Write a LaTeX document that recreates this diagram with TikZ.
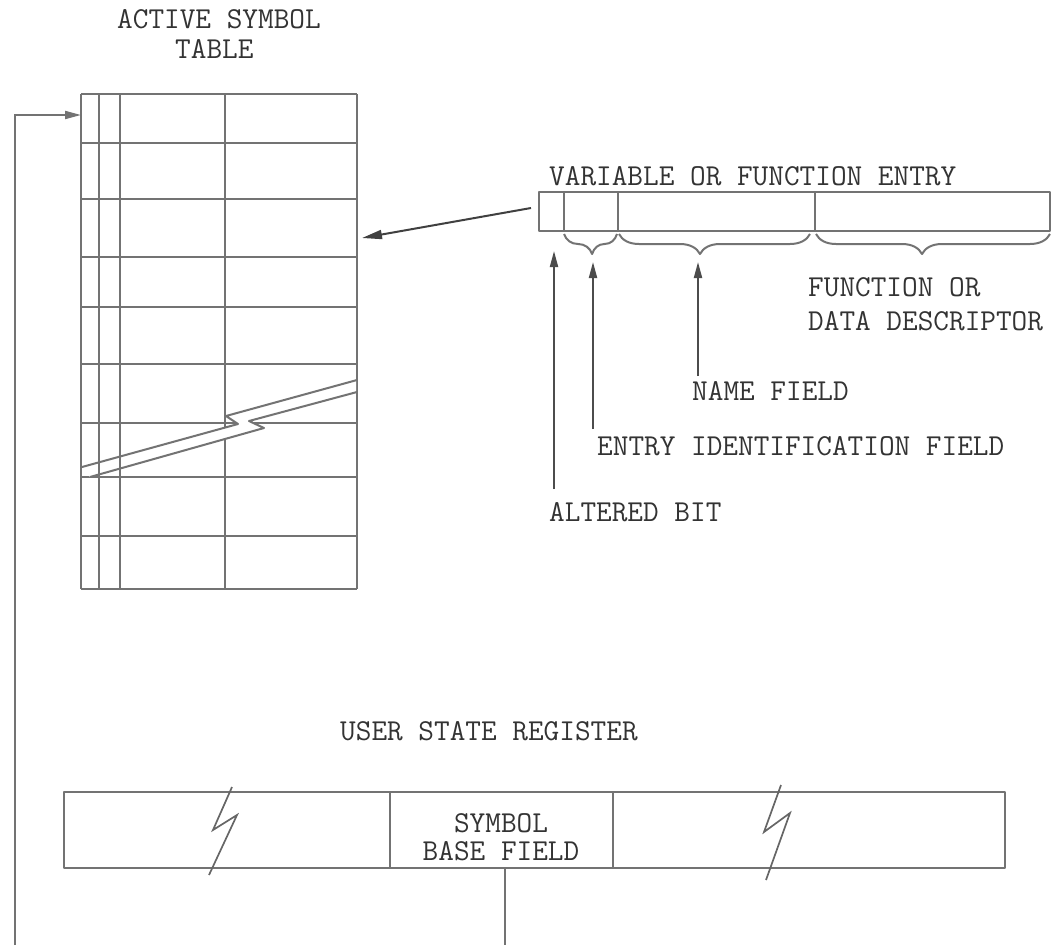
\documentclass[tikz,border=0pt]{standalone}
\usepackage{fontspec}
\usetikzlibrary{arrows.meta,decorations.pathreplacing}
\begin{document}
\begin{tikzpicture}[x=1pt,y=-1pt,
  ln/.style={line width=2pt, draw=black!55, line join=round},
  arr/.style={line width=2pt, draw=black!70, -{Triangle[length=16pt,width=8pt]}},
  lbl/.style={font=\ttfamily\fontsize{30.4}{34}\selectfont, text=black!80, inner sep=0pt, anchor=base west},
  clbl/.style={font=\ttfamily\fontsize{30.4}{34}\selectfont, text=black!80, inner sep=0pt, anchor=base},
  brc/.style={ln, decorate, decoration={brace, mirror, amplitude=20pt}},
  zig/.style={line width=1.7pt, draw=black!60, line join=miter},
]
\useasboundingbox (0,0) rectangle (1054,945);

% ---- titles and labels
\node[lbl] (tAST) at (117,28) {ACTIVE SYMBOL};
\node[lbl] (tTAB) at (175,58) {TABLE};
\node[lbl] (tVAR) at (549,185) {VARIABLE OR FUNCTION ENTRY};
\node[lbl] (tFUN) at (808,296) {FUNCTION OR};
\node[lbl] (tDAT) at (808,330) {DATA DESCRIPTOR};
\node[lbl] (tNAM) at (692,400) {NAME FIELD};
\node[lbl] (tEID) at (597,455) {ENTRY IDENTIFICATION FIELD};
\node[lbl] (tALT) at (549,521) {ALTERED BIT};
\node[lbl] (tUSR) at (340,740) {USER STATE REGISTER};
\node[clbl] (tSYM) at (501,832) {SYMBOL};
\node[clbl] (tBAS) at (501,860) {BASE FIELD};

% ---- active symbol table
\foreach \y in {94,143,199,257,307,364,423,477,536,589}
  \draw[ln] (81,\y) -- (357,\y);
\draw[ln] (225,94) -- (225,589);
\draw[ln] (357,94) -- (357,589);
% break band
\fill[white] (82,467) -- (238,424) -- (226,416) -- (356,380) -- (356,392)
  -- (249,421) -- (264,428) -- (90,477) -- cycle;
\foreach \x in {81,99,120}
  \draw[ln] (\x,94) -- (\x,589);
\draw[ln] (82,467) -- (238,424) -- (226,416) -- (357,380);
\draw[ln] (90,477) -- (264,428) -- (249,421) -- (357,392);
\coordinate (tblIn) at (81,115);
\coordinate (tblR) at (362,238);

% ---- variable or function entry
\draw[ln] (539,192) rectangle (1050,231);
\foreach \x in {564,618,815}
  \draw[ln] (\x,192) -- (\x,231);
\draw[brc, decoration={aspect=0.53}] (564,234) -- (617,234);
\draw[brc, decoration={aspect=0.424}] (619,234) -- (810,234);
\draw[brc, decoration={aspect=0.453}] (816,234) -- (1050,234);
\coordinate (entL) at (531,208);

\coordinate (altB) at (554,489);
\coordinate (altT) at (554,251);
\coordinate (eidB) at (593,429);
\coordinate (eidT) at (593,262);
\coordinate (namB) at (698,376);
\coordinate (namT) at (698,262);
\draw[arr] (altB) -- (altT);
\draw[arr] (eidB) -- (eidT);
\draw[arr] (namB) -- (namT);
\draw[line width=2pt, draw=black!75, -{Triangle[length=20pt,width=9pt]}] (entL) -- (tblR);

% ---- user state register
\draw[ln] (64,792) rectangle (1005,868);
\draw[ln] (390,792) -- (390,868);
\draw[ln] (613,792) -- (613,868);
\draw[zig] (232,787) -- (213,830) -- (237,815) -- (209,875);
\draw[zig] (781,785) -- (764,832) -- (790,813) -- (766,880);
\coordinate (sbfB) at (505,868);
\coordinate (sbfEnd) at (505,945);
\draw[ln] (sbfB) -- (sbfEnd);

% ---- feedback line to table
\coordinate (loopB) at (15,945);
\coordinate (loopT) at (15,115);
\draw[line width=2pt, draw=black!55, -{Triangle[length=16pt,width=8pt]}]
  (loopB) -- (loopT) -- (tblIn);
\end{tikzpicture}
\end{document}
